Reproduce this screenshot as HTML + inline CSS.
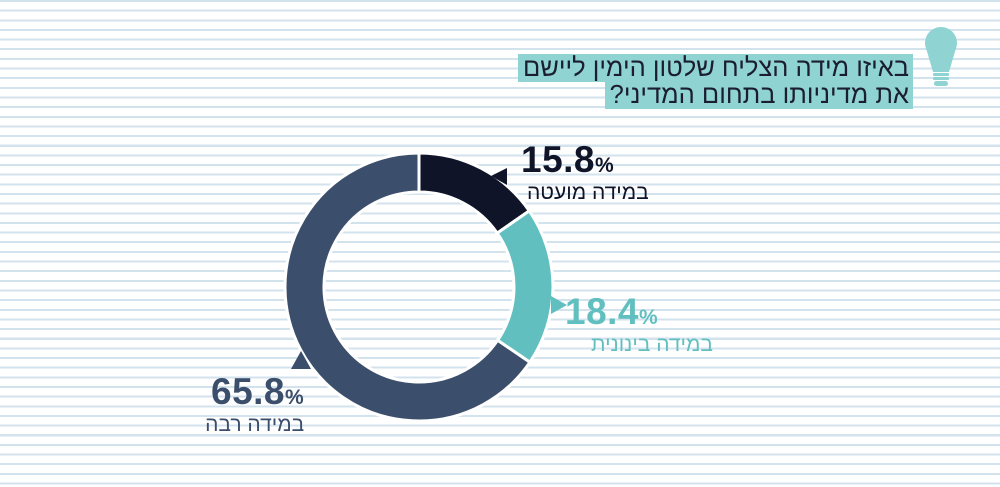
<!DOCTYPE html>
<html><head><meta charset="utf-8"><style>
body{margin:0;width:1000px;height:487px;overflow:hidden;background:#fff;font-family:"Liberation Sans","DejaVu Sans",sans-serif;}
.bg{position:absolute;left:0;top:0;width:1000px;height:487px;background:repeating-linear-gradient(to bottom,#d3e3ee 0,#d3e3ee 2px,#fff 2px,#fff 9.65px);}
.t{position:absolute;direction:rtl;color:#1b1e2e;font-size:25.5px;line-height:26px;}
.t span{background:#8fd3d3;padding:0 4px 0 5px;}
.lab{position:absolute;direction:rtl;white-space:nowrap;}
.num{font-weight:bold;font-size:37px;line-height:34px;direction:ltr;letter-spacing:0.5px;}
.num small{font-size:21px;}
.sub{font-size:21px;line-height:20px;}
</style></head><body>
<div class="bg"></div>
<div class="t" style="right:87px;top:55px;"><span>באיזו מידה הצליח שלטון הימין ליישם</span></div>
<div class="t" style="right:87px;top:82px;"><span>את מדיניותו בתחום המדיני?</span></div>
<svg style="position:absolute;left:0;top:0" width="1000" height="487">
<g fill="#8fd3d3">
<circle cx="941" cy="43" r="16"/>
<path d="M926,48 L956,48 L949,72 L933,72 Z"/>
<rect x="933" y="73" width="16" height="3" rx="1"/>
<rect x="933" y="77" width="16" height="3" rx="1"/>
<rect x="934" y="81" width="14" height="5" rx="2.5"/>
</g>
<g transform="translate(419,287)" stroke="#fff" stroke-width="3">
<path d="M0,-134 A134,134 0 0,1 110.3,-76.1 L78.2,-53.9 A95,95 0 0,0 0,-95 Z" fill="#0f1429"/>
<path d="M110.3,-76.1 A134,134 0 0,1 110.9,75.2 L78.6,53.3 A95,95 0 0,0 78.2,-53.9 Z" fill="#62bfc0"/>
<path d="M110.9,75.2 A134,134 0 1,1 0,-134 L0,-95 A95,95 0 1,0 78.6,53.3 Z" fill="#3b4e6b"/>
</g>
<polygon points="491,176 507,168 507,185" fill="#0f1429"/>
<polygon points="551,296 551,314 567,305" fill="#62bfc0"/>
<polygon points="291,369 311,369 301,351" fill="#3b4e6b"/>
</svg>
<div class="lab" style="left:521px;top:143px;color:#0f1429"><div class="num">15.8<small>%</small></div><div class="sub" style="margin-left:6px">במידה מועטה</div></div>
<div class="lab" style="left:565px;top:295px;color:#62bfc0"><div class="num">18.4<small>%</small></div><div class="sub" style="margin-left:26px">במידה בינונית</div></div>
<div class="lab" style="left:211px;top:375px;color:#3b4e6b"><div class="num">65.8<small>%</small></div><div class="sub" style="margin-left:-8px">במידה רבה</div></div>
</body></html>
